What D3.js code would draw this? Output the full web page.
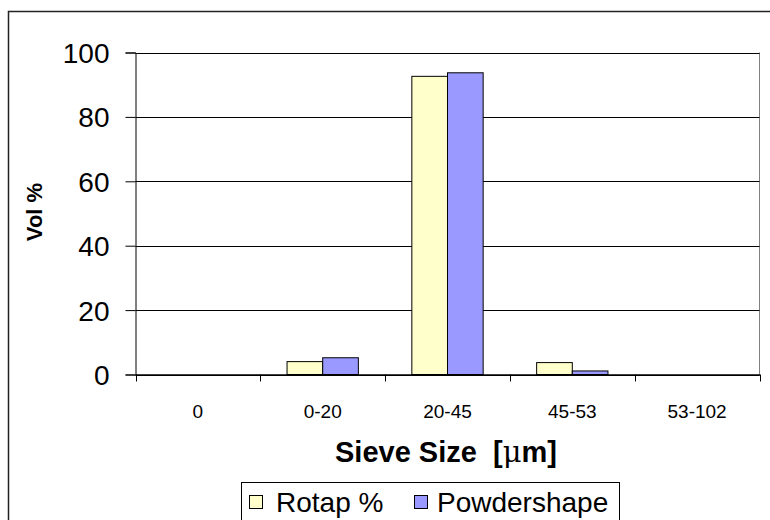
<!DOCTYPE html>
<html><head><meta charset="utf-8">
<script src="https://cdn.jsdelivr.net/npm/d3@7"></script>
<style>html,body{margin:0;padding:0;background:#fff;}svg{display:block;}</style>
</head><body>
<svg id="c" width="770" height="520"></svg>
<script>
const categories = ["0", "0-20", "20-45", "45-53", "53-102"];
const seriesNames = ["Rotap %", "Powdershape"];
const rotap = [0, 4.0, 92.6, 3.7, 0];
const powdershape = [0, 5.2, 93.7, 1.1, 0];
const yTicks = [0, 20, 40, 60, 80, 100];
const colors = ["#FFFFCC", "#9999FF"];
const FONT = "Arial, 'Liberation Sans', sans-serif";

const svg = d3.select("#c");
// outer chart frame
svg.append("rect").attr("x", 8.5).attr("y", 11.5).attr("width", 800).attr("height", 600)
  .attr("fill", "#fff").attr("stroke", "#222").attr("stroke-width", 1.5);

const L = 135.5, R = 759.5, T = 52.5, B = 374.5;
const x = d3.scaleBand().domain(categories).range([L, R]);
const y = d3.scaleLinear().domain([0, 100]).range([B, T]);

// plot border (right side gray)
svg.append("line").attr("x1", R).attr("x2", R).attr("y1", T).attr("y2", B).attr("stroke", "#808080");
// gridlines
svg.append("g").selectAll("line").data(yTicks).join("line")
  .attr("x1", L).attr("x2", R).attr("y1", d => Math.round(y(d)) + 0.5).attr("y2", d => Math.round(y(d)) + 0.5)
  .attr("stroke", "#000").attr("stroke-width", 1);

// bars (gap width 150%)
const bw = x.bandwidth() / 3.5;
const data = categories.map((c, i) => ({c, v: [rotap[i], powdershape[i]]}));
const g = svg.append("g");
data.forEach(d => {
  d.v.forEach((v, k) => {
    if (v <= 0) return;
    const x0 = x(d.c) + 0.75 * bw + k * bw;
    g.append("rect").attr("x", x0).attr("y", y(v)).attr("width", bw).attr("height", B - y(v))
      .attr("fill", colors[k]).attr("stroke", "#000").attr("stroke-width", 1);
  });
});

// y axis
const yAxis = d3.axisLeft(y).tickValues(yTicks).tickSize(10).tickPadding(16);
const ya = svg.append("g").attr("transform", `translate(${L},0)`).call(yAxis);
ya.attr("font-size", null).attr("font-family", null);
ya.select(".domain").attr("stroke", "#000");
ya.selectAll(".tick line").attr("stroke", "#000");
ya.selectAll("text").style("font-family", FONT).style("font-size", "28px").attr("fill", "#000").attr("dy", "0.36em");

// x axis
const xAxis = d3.axisBottom(x).tickSize(0).tickPadding(30);
const xa = svg.append("g").attr("transform", `translate(0,${B})`).call(xAxis);
xa.attr("font-size", null).attr("font-family", null);
xa.select(".domain").attr("stroke", "#000").attr("stroke-width", 1.5);
xa.selectAll("text").style("font-family", FONT).style("font-size", "19px").attr("fill", "#000");
// category separator ticks
svg.append("g").selectAll("line").data(categories.map(c => x(c)).concat([R])).join("line")
  .attr("x1", d => Math.round(d) + 0.5).attr("x2", d => Math.round(d) + 0.5)
  .attr("y1", B).attr("y2", B + 7).attr("stroke", "#000");

// axis titles
svg.append("text").attr("transform", "translate(42,212) rotate(-90)").attr("text-anchor", "middle")
  .style("font-family", FONT).attr("font-weight", "bold").style("font-size", "22px")
  .text("Vol %");
const xt = svg.append("text").attr("x", 446).attr("y", 462).attr("text-anchor", "middle")
  .style("font-family", FONT).attr("font-weight", "bold").style("font-size", "29px")
  .attr("xml:space", "preserve");
xt.append("tspan").text("Sieve Size  [");
xt.append("tspan").style("font-family", "'DejaVu Serif', serif").attr("font-weight", "normal").text("μ");
xt.append("tspan").text("m]");

// legend
const lg = svg.append("g");
lg.append("rect").attr("x", 241.5).attr("y", 482.5).attr("width", 378).attr("height", 60)
  .attr("fill", "#fff").attr("stroke", "#000");
const items = [{n: seriesNames[0], sx: 249, tx: 276}, {n: seriesNames[1], sx: 414, tx: 437}];
items.forEach((it, k) => {
  lg.append("rect").attr("x", it.sx + 0.5).attr("y", 495.5).attr("width", 13).attr("height", 13)
    .attr("fill", colors[k]).attr("stroke", "#000");
  lg.append("text").attr("x", it.tx).attr("y", 512)
    .style("font-family", FONT).style("font-size", "28px").text(it.n);
});
</script>
</body></html>
